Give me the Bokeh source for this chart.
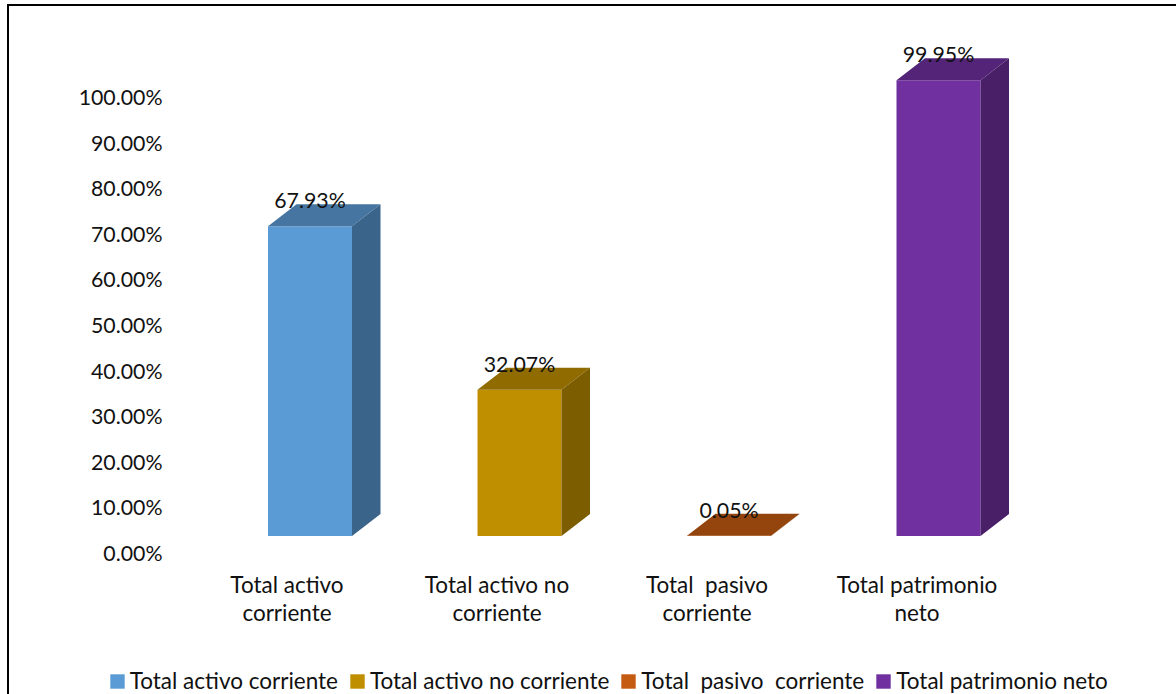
from bokeh.plotting import figure
from bokeh.models import (Range1d, LinearAxis, FixedTicker, PrintfTickFormatter, Legend, LegendItem,
                          ColumnDataSource)
from bokeh.core.properties import value
from bokeh.embed import file_html
from bokeh.resources import INLINE

categories = ["Total activo corriente", "Total activo no corriente", "Total\u00a0 pasivo\u00a0 corriente", "Total patrimonio neto"]
axis_labels = ["Total activo\ncorriente", "Total activo no\ncorriente", "Total\u00a0 pasivo\ncorriente", "Total patrimonio\nneto"]
values = [67.93, 32.07, 0.05, 99.95]
data_labels = ["67.93%", "32.07%", "0.05%", "99.95%"]
front_colors = ["#5B9BD5", "#BF8F00", "#C55A11", "#7030A0"]
top_colors = ["#4675A1", "#8F6B00", "#94440D", "#542478"]
side_colors = ["#3B648A", "#7C5D00", "#803A0B", "#491F68"]
y_ticks = [0, 10, 20, 30, 40, 50, 60, 70, 80, 90, 100]

FONT = "Lato"
NUM_SIZE = "21.3px"
TXT_SIZE = "22.5px"
OX, OY = 7, 4              # where the figure's box starts on the page
WIN_W, WIN_H = 1176, 694
W, H = WIN_W - OX, WIN_H - OY
L, T = OX + 2.5, OY + 2.5  # page position of the frame's top-left corner
PX_X, PX_Y = 209.5, 4.56
BAR_W = 84 / PX_X
DX, DY = 28.5 / PX_X, 22 / PX_Y
BAR0_X, CAT0_X = 310, 287  # page x of the first bar and of the first category label
BASE_Y, TICK0_Y, AXIS_Y = 536, 553, 558  # page y of value 0 for bars / tick labels, and of the category axis
YAXIS_X = 170.5


def xr(center, scale):
    return Range1d((L - center) / scale, (L + W - center) / scale)


def yr(zero):
    return Range1d((zero - T - H) / PX_Y, (zero - T) / PX_Y)


p = figure(width=W, height=H, output_backend="svg", toolbar_location=None,
           x_axis_location=None, y_axis_location=None,
           frame_width=W, frame_height=H,
           x_range=xr(BAR0_X, PX_X), y_range=yr(BASE_Y),
           min_border=0, outline_line_color=None, margin=(OY, 0, 0, OX),
           styles={"border-left": "2px solid #000", "border-top": "2px solid #000", "box-sizing": "border-box"})
p.grid.visible = False
p.extra_y_ranges = {"ticks": yr(TICK0_Y)}
p.extra_x_ranges = {"cats": xr(CAT0_X, 210)}

yaxis = LinearAxis(y_range_name="ticks", ticker=FixedTicker(ticks=y_ticks),
                   formatter=PrintfTickFormatter(format="%.2f%%"),
                   fixed_location=(YAXIS_X - BAR0_X) / PX_X,
                   axis_line_color=None, major_tick_line_color=None, minor_tick_line_color=None,
                   major_label_text_font=FONT, major_label_text_font_size=NUM_SIZE,
                   major_label_text_color="#111111", major_label_standoff=2)
p.add_layout(yaxis, "left")

xaxis = LinearAxis(x_range_name="cats", ticker=FixedTicker(ticks=list(range(len(axis_labels)))),
                   major_label_overrides={i: t for i, t in enumerate(axis_labels)},
                   fixed_location=(BASE_Y - AXIS_Y) / PX_Y,
                   axis_line_color=None, major_tick_line_color=None, minor_tick_line_color=None,
                   major_label_text_font=FONT, major_label_text_font_size=TXT_SIZE,
                   major_label_text_line_height=1.05,
                   major_label_text_color="#111111", major_label_standoff=7)
p.add_layout(xaxis, "below")

items = []
for i, (cat, v) in enumerate(zip(categories, values)):
    x0, x1 = i - BAR_W / 2, i + BAR_W / 2
    front = p.quad(left=[x0], right=[x1], bottom=[0], top=[v], fill_color=front_colors[i], line_color=None)
    p.patch([x0, x1, x1 + DX, x0 + DX], [v, v, v + DY, v + DY], fill_color=top_colors[i], line_color=None)
    p.patch([x1, x1 + DX, x1 + DX, x1], [0, DY, v + DY, v], fill_color=side_colors[i], line_color=None)
    items.append(LegendItem(label=cat, renderers=[front]))

src = ColumnDataSource(dict(x=list(range(4)), y=values, t=data_labels))
p.text("x", "y", text="t", source=src, text_align="center", text_baseline="middle", y_offset=-26,
       text_font=value(FONT), text_font_size=NUM_SIZE, text_color="#111111")

legend = Legend(items=items, orientation="horizontal", location=(108.2 - L, 2), glyph_width=18, glyph_height=18,
                label_text_font=FONT, label_text_font_size=TXT_SIZE, label_text_color="#111111",
                border_line_color=None, background_fill_alpha=0, spacing=10, padding=0, margin=0,
                label_standoff=4, label_height=15)
p.add_layout(legend, "center")

open("out.html", "w").write(file_html(p, INLINE))
